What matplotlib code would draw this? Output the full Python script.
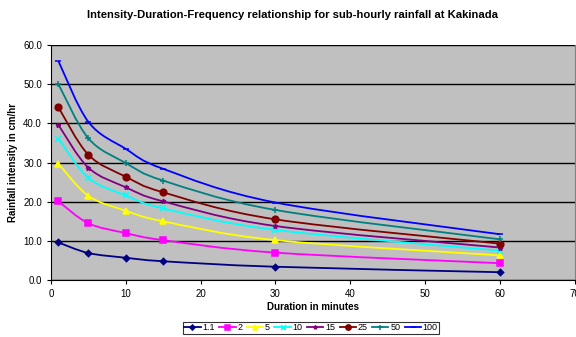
import numpy as np
import matplotlib
matplotlib.use("Agg")
import matplotlib.pyplot as plt
from matplotlib.path import Path
import matplotlib.patches as patches
from matplotlib.lines import Line2D

plt.rcParams['font.family'] = ['Liberation Sans', 'DejaVu Sans']

durations = [1, 5, 10, 15, 30, 60]
return_periods = ["1.1", "2", "5", "10", "15", "25", "50", "100"]
intensity_1_1 = [9.6, 6.9, 5.7, 4.8, 3.4, 2.0]
intensity_2 = [20.1, 14.5, 12.0, 10.2, 7.0, 4.3]
intensity_5 = [29.7, 21.5, 17.7, 15.0, 10.2, 6.3]
intensity_10 = [36.1, 26.1, 21.6, 18.3, 12.8, 7.5]
intensity_15 = [39.6, 28.7, 23.7, 20.1, 13.8, 8.3]
intensity_25 = [44.1, 32.0, 26.4, 22.4, 15.5, 9.3]
intensity_50 = [50.0, 36.2, 29.9, 25.4, 17.9, 10.4]
intensity_100 = [55.9, 40.4, 33.5, 28.4, 19.8, 11.7]

series = [intensity_1_1, intensity_2, intensity_5, intensity_10,
          intensity_15, intensity_25, intensity_50, intensity_100]
colors = ["#000080", "#FF00FF", "#FFFF00", "#00FFFF",
          "#800080", "#800000", "#008080", "#0000FF"]
markers = ["D", "s", "^", "x", "*", "o", "+", "_"]
msizes = [3.2, 4.5, 4.5, 4.5, 3.5, 4.8, 4.5, 4.5]


def smooth_path(xs, ys):
    # Excel-like smoothed line: cubic bezier through the points
    pts = np.column_stack([xs, ys]).astype(float)
    n = len(pts)
    verts = [pts[0]]
    codes = [Path.MOVETO]
    for i in range(n - 1):
        p0 = pts[i - 1] if i > 0 else pts[i]
        p1 = pts[i]
        p2 = pts[i + 1]
        p3 = pts[i + 2] if i + 2 < n else pts[i + 1]
        c1 = p1 + (p2 - p0) / 6.0
        c2 = p2 - (p3 - p1) / 6.0
        verts += [c1, c2, p2]
        codes += [Path.CURVE4] * 3
    return Path(verts, codes)


fig = plt.figure(figsize=(5.76, 3.37), dpi=100)
ax = fig.add_axes([0.0885, 0.169, 0.9095, 0.697])
ax.set_facecolor("#C0C0C0")

handles = []
for vals, c, m, ms, lab in zip(series, colors, markers, msizes, return_periods):
    ax.add_patch(patches.PathPatch(smooth_path(durations, vals), facecolor="none",
                                   edgecolor=c, linewidth=1.3, zorder=3))
    ax.plot(durations, vals, linestyle="none", marker=m, color=c, markersize=ms,
            markeredgewidth=1.1, zorder=4)
    handles.append(Line2D([], [], color=c, marker=m, markersize=ms,
                          linewidth=1.3, markeredgewidth=1.1, label=lab))

ax.set_xlim(0, 70)
ax.set_ylim(0, 60)
ax.set_xticks(np.arange(0, 71, 10))
ax.set_yticks(np.arange(0, 61, 10))
ax.set_yticklabels(["%.1f" % v for v in np.arange(0, 61, 10)])
ax.yaxis.grid(True, color="black", linewidth=1)
ax.set_axisbelow(True)
ax.tick_params(labelsize=7, direction="out", length=3)
ax.spines["top"].set_visible(False)
ax.spines["right"].set_color("#808080")

fig.text(0.508, 0.955,
         "Intensity-Duration-Frequency relationship for sub-hourly rainfall at Kakinada",
         fontsize=8.1, fontweight="bold", ha="center", va="center")
ax.set_xlabel("Duration in minutes", fontsize=7, fontweight="bold", labelpad=2)
ax.set_ylabel("Rainfall intensity in cm/hr", fontsize=7, fontweight="bold", labelpad=4)

leg = fig.legend(handles=handles, loc="center", bbox_to_anchor=(0.54, 0.027), ncol=8,
                 fontsize=6.5, frameon=True, fancybox=False, edgecolor="black",
                 handlelength=1.8, handletextpad=0.2, columnspacing=0.5,
                 borderpad=0.15, markerscale=0.8)
leg.get_frame().set_linewidth(0.8)

fig.savefig("out.png", dpi=100)
